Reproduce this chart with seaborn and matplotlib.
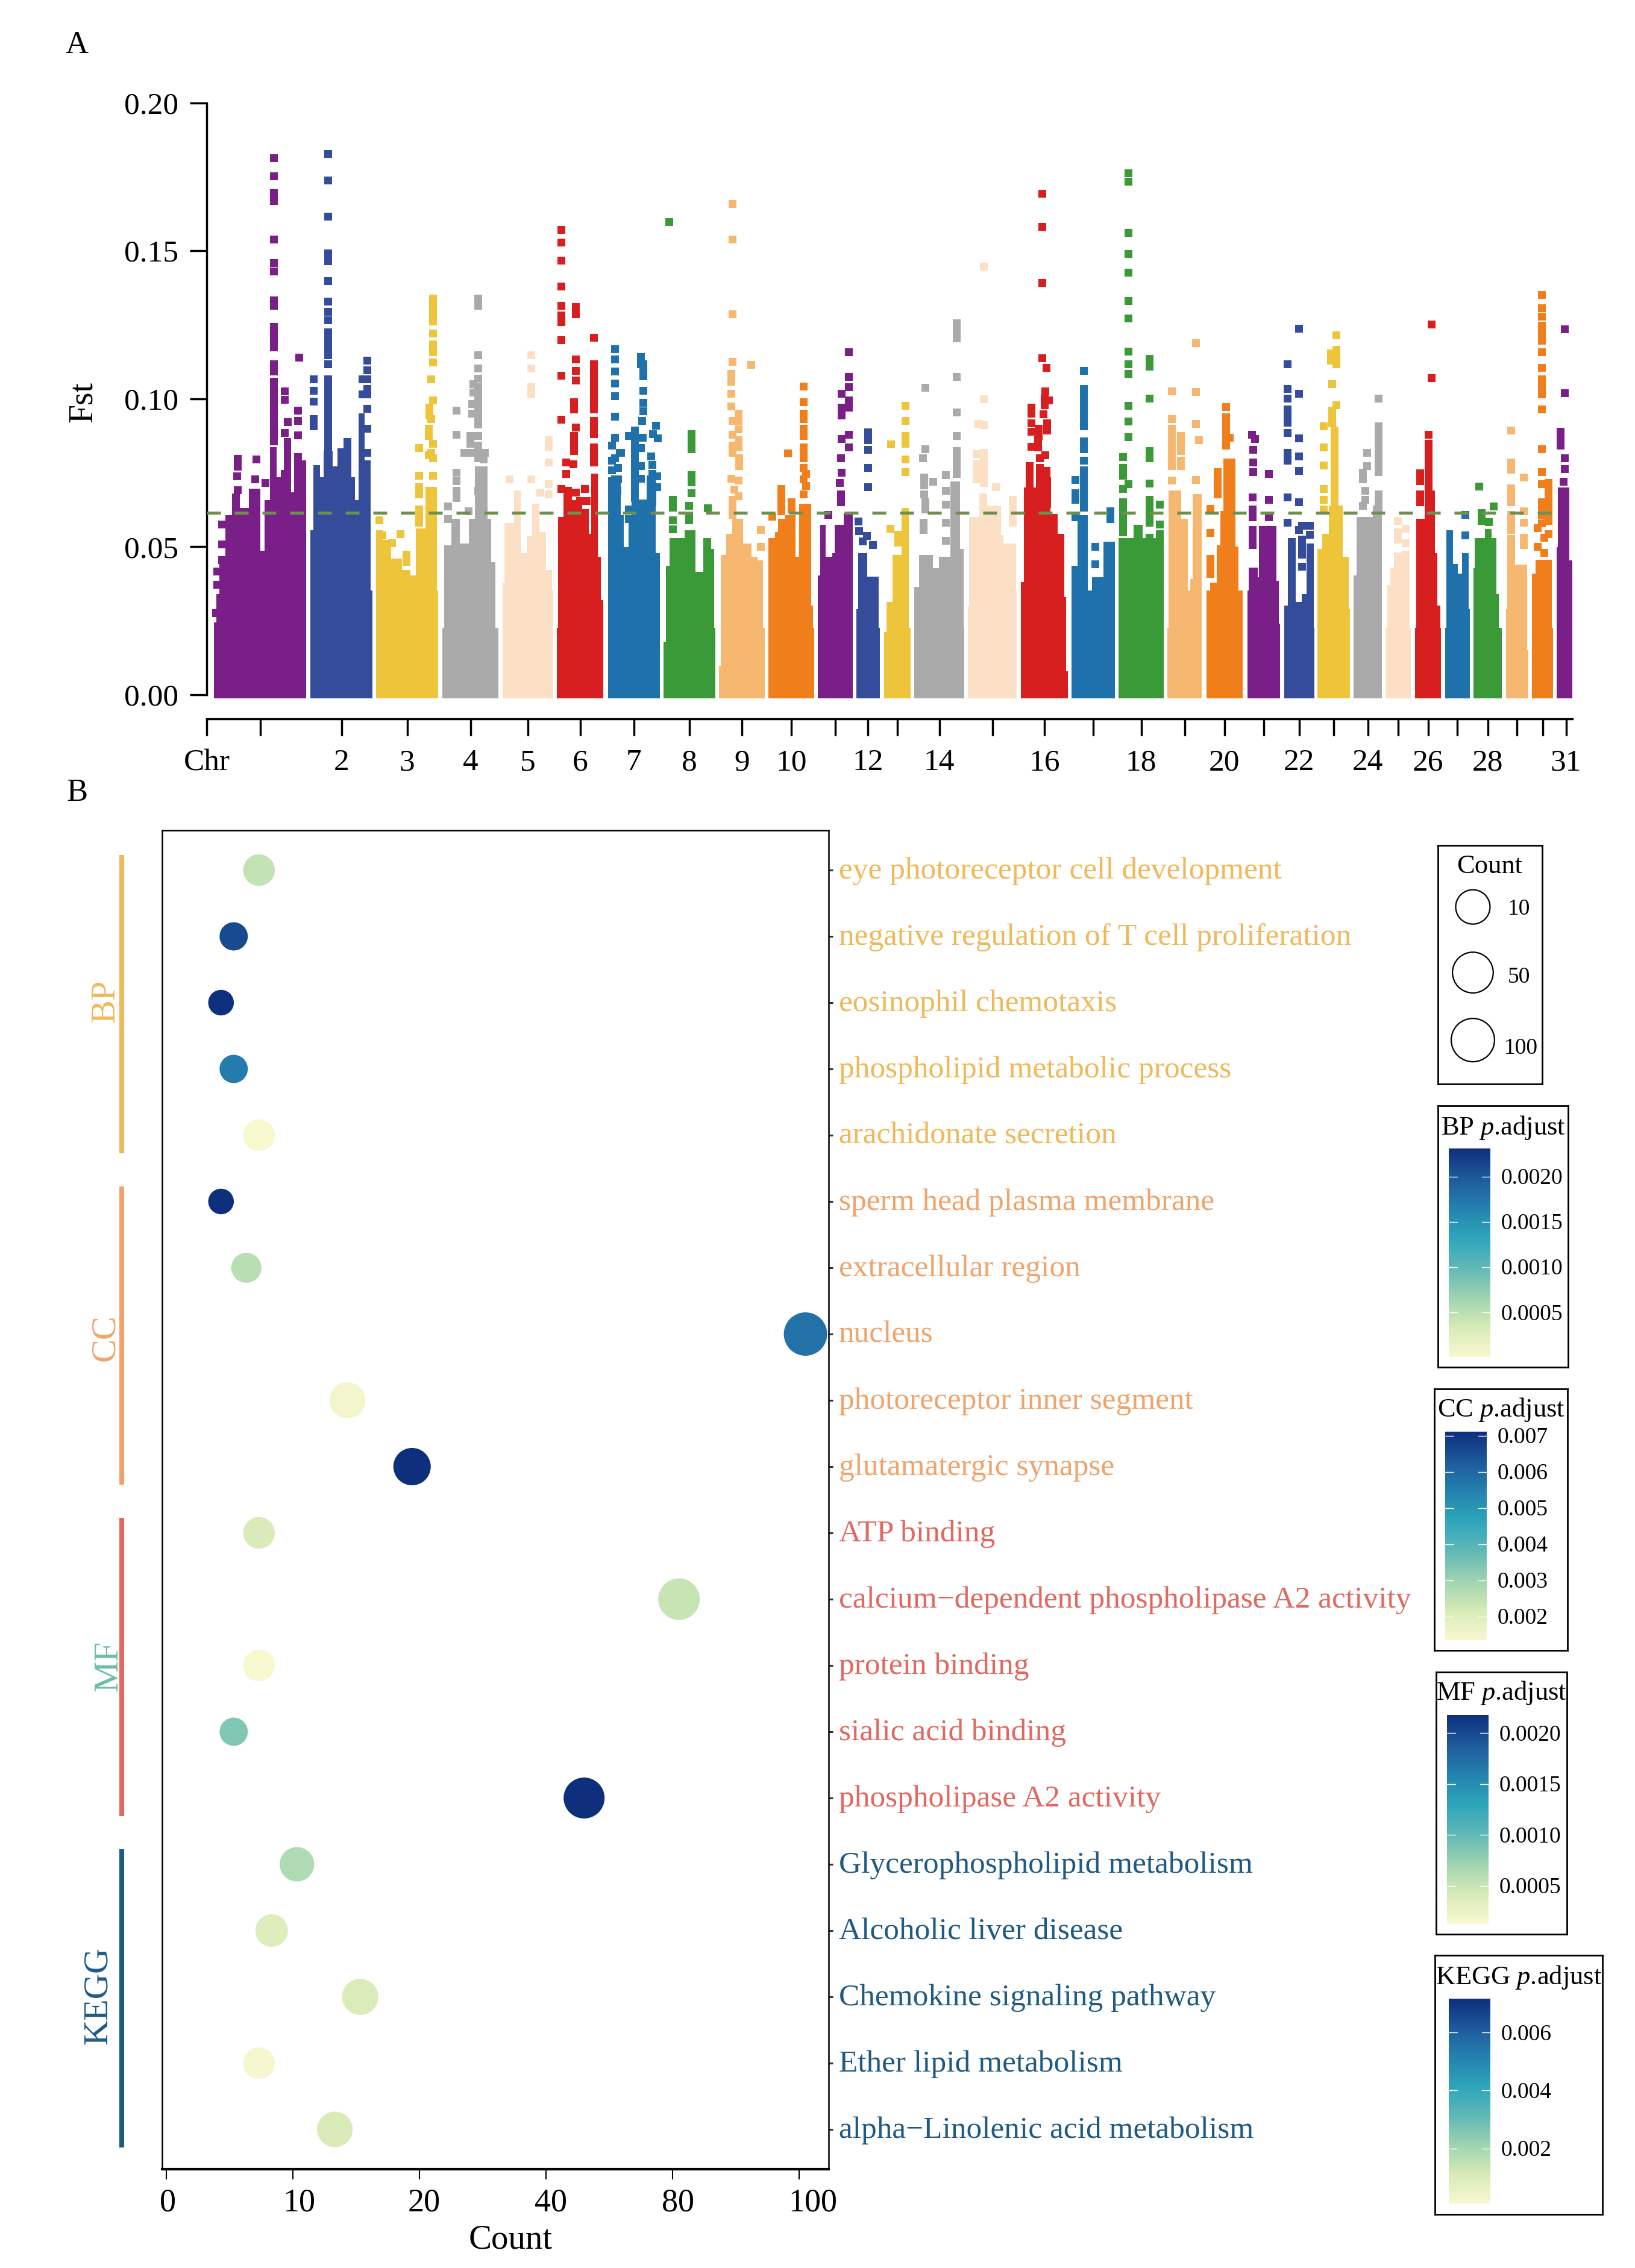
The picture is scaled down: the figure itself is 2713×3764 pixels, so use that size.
import numpy as np
import pandas as pd
import seaborn as sns
import matplotlib.pyplot as plt
from matplotlib.cm import ScalarMappable
from matplotlib.colors import Normalize
from matplotlib.transforms import ScaledTranslation, blended_transform_factory

W, H = 2713, 3764

# ---- panel A: body outline of every chromosome (step edges and top Fst), then the loose points
chr1_pos = [355, 359, 364, 374, 385, 413, 432, 439, 448, 459, 466, 471, 483, 488, 508]
chr1_top = [.0244, .0340, .0467, .0607, .0632, .0696, .0486, .0658, .0836, .0734, .0759, .0868, .0683, .0791]
chr1_hits = {454: [.1813, .1752, .1695, .1669, .1538, .1459, .1430, .1332, .1313, .1243, .1220, .1197, .1173, .1116, .1093, .1058, .1033, .1007, .0982, .0957, .0931, .0906, .0880, .0857],
             496: [.1138], 472: [.1024, .0996, .0884], 494: [.0960, .0925, .0876, .0804, .0766], 477: [.0922],
             394: [.0796, .0770, .0692], 393: [.0738], 425: [.0794], 423: [.0727], 391: [.0667, .0642],
             501: [.0772, .0740], 440: [.0715], 368: [.0575, .0508, .0454], 360: [.0416, .0371], 358: [.0276]}

chr2_pos = [515, 520, 531, 537, 552, 560, 570, 583, 589, 594.5, 605, 615, 618]
chr2_top = [.0556, .0775, .0734, .0823, .0772, .0833, .0868, .0734, .0658, .0950, .0791, .0352]
chr2_hits = {544: [.1826, .1737, .1616, .1491, .1465, .1398, .1328, .1294, .1266, .1224, .1198, .1173, .1147, .1116, .1065, .1039, .1014, .0988, .0963, .0938, .0912, .0887, .0861, .0836, .0817],
             520: [.1065, .1027, .0991, .0931, .0906], 609: [.1128, .1097, .1065, .1033, .1014, .0965, .0899, .0817], 601: [.1065, .1014]}

chr3_pos = [624, 635, 649, 667, 681, 690, 705.5, 725, 727]
chr3_top = [.0556, .0524, .0460, .0422, .0403, .0562, .0702, .0352]
chr3_hits = {718: [.1338, .1313, .1287, .1262, .1220, .1183, .1158, .1122, .0995, .0848, .0798, .0740], 715: [.1065, .0931, .0817],
             712: [.0969, .0944], 711: [.0899, .0874, .0810],
             695: [.0833, .0740, .0702, .0677, .0626, .0600, .0581], 629: [.0589], 634: [.0539], 650: [.0511], 664: [.0543], 674: [.0473, .0448]}

chr4_pos = [734, 737, 749, 763, 778, 788, 809, 814.5, 822, 827]
chr4_top = [.0225, .0505, .0594, .0511, .0594, .0772, .0594, .0448, .0225]
chr4_hits = {793: [.1338, .1313, .1147, .1103, .1068, .1039, .1014, .0988, .0963, .0938, .0912, .0874, .0842, .0817, .0798, .0689],
             785: [.1049, .1020], 783: [.0982, .0950], 757: [.0959, .0878, .0750, .0721, .0689, .0664],
             780: [.0874, .0848, .0817], 770: [.0817], 804: [.0817], 802: [.0795], 801: [.0759, .0734, .0708],
             743: [.0636, .0594], 800: [.0677, .0642], 777: [.0619]}

chr5_pos = [834.4, 837, 853, 864, 874, 883, 895, 906, 916, 918]
chr5_top = [.0378, .0581, .0690, .0479, .0536, .0645, .0550, .0422, .0352]
chr5_hits = {881: [.1147, .1103, .1039, .1014, .0727], 845: [.0727], 910: [.0861, .0836, .0785, .0712, .0677], 896: [.0683]}

chr6_pos = [924, 926, 934.5, 949, 966, 977, 980.5, 992, 996.5, 1001]
chr6_top = [.0225, .0600, .0702, .0658, .0626, .0543, .0747, .0467, .0320]
chr6_hits = {931: [.1570, .1528, .1466, .1379, .1315, .1281, .1259, .1198, .1077, .0929, .0696], 955: [.1309, .1285, .1132, .1095, .1062, .0902, .0683],
             952: [.0988, .0963, .0874, .0848, .0823], 951: [.0779],
             985: [.1207, .1116, .1090, .1065, .1039, .1014, .0988, .0963, .0925, .0899, .0880, .0836, .0810, .0785],
             939: [.0785, .0747], 970: [.0696], 962: [.0655], 973: [.0655]}

chr7_pos = [1009, 1030, 1035, 1042.5, 1048, 1058, 1073, 1088, 1095]
chr7_top = [.0734, .0607, .0499, .0581, .0880, .0660, .0740, .0479]
chr7_hits = {1020: [.1167, .1132, .1093, .1052, .1009, .0939, .0868, .0728, .0798], 1063: [.1141, .1116, .0833, .0772, .0730],
             1067: [.1116, .1090, .1075, .1027, .0986, .0957], 1065: [.0925], 1066: [.0868], 1088: [.0908], 1083: [.0880], 1091: [.0866],
             1053: [.0893, .0868, .0842, .0817, .0791, .0766, .0740, .0715, .0689, .0664], 1043: [.0874, .0626, .0594],
             1080: [.0806], 1082: [.0776, .0747, .0708, .0677, .0651], 1090: [.0738, .0702], 1015: [.0842, .0791, .0759],
             1025: [.0766, .0727], 1028: [.0817], 1017: [.0639], 1024: [.0689], 1030: [.0817]}

chr8_pos = [1101.4, 1105, 1110.6, 1136, 1154, 1167, 1180, 1185, 1187]
chr8_top = [.0180, .0435, .0530, .0556, .0416, .0530, .0492, .0225]
chr8_hits = {1147: [.0880, .0855, .0829, .0743, .0717, .0680], 1116: [.0658, .0632, .0590, .0558], 1110: [.1597],
             1143: [.0638, .0606, .0589], 1174: [.0630]}

chr9_pos = [1193, 1195.5, 1205, 1215, 1233, 1247, 1257, 1266, 1269]
chr9_top = [.0098, .0473, .0543, .0594, .0511, .0467, .0454, .0225]
chr9_hits = {1215: [.1659, .1538, .1285, .1124, .0925, .0878, .0842, .0817, .0658, .0632, .0607], 1213: [.1084, .1058, .1016, .0974, .0730],
             1225: [.0950, .0925, .0897, .0861, .0836, .0724, .0670], 1226: [.0798, .0772], 1246: [.1114], 1218: [.0693], 1262: [.0556, .0499]}

chr10_pos = [1275, 1285.5, 1291, 1303, 1320, 1326, 1345.5, 1348.6, 1350.5]
chr10_top = [.0530, .0550, .0594, .0607, .0467, .0645, .0301, .0225]
chr10_hits = {1333: [.1042, .0988, .0950, .0931, .0899, .0874, .0836, .0813, .0798, .0766, .0728, .0677], 1337: [.0747, .0706],
              1307: [.0815], 1296: [.0696, .0670, .0645, .0619], 1313: [.0651, .0626], 1281: [.0602]}

chr11_pos = [1357.4, 1361, 1370, 1381, 1385, 1400, 1415]
chr11_top = [.0403, .0575, .0467, .0479, .0575, .0613]
chr11_hits = {1408.8: [.1158, .1074, .1039, .0995, .0969, .0879, .0836], 1396: [.1016, .0969, .0944, .0864, .0750],
              1395: [.0800, .0677, .0651], 1393: [.0715], 1374: [.0607]}

chr12_pos = [1421, 1424.4, 1438.6, 1457.7, 1459.6]
chr12_top = [.0289, .0479, .0400, .0225]
chr12_hits = {1440: [.0887, .0861, .0827, .0766, .0701], 1424: [.0585], 1425: [.0552], 1438: [.0537], 1431: [.0518], 1448: [.0505]}

chr13_pos = [1466.5, 1471, 1480.6, 1496, 1508, 1510.5]
chr13_top = [.0212, .0314, .0473, .0632, .0225]
chr13_hits = {1502: [.0976, .0925, .0874, .0848, .0794, .0752], 1478: [.0845], 1477: [.0561], 1490: [.0541, .0515]}

chr14_pos = [1517, 1524.5, 1548, 1558, 1577, 1593.4, 1599, 1600]
chr14_top = [.0365, .0473, .0428, .0467, .0720, .0492, .0225]
chr14_hits = {1587: [.1255, .1230, .1205, .1074, .0953, .0874, .0823, .0798, .0772, .0747], 1535: [.1037, .0829, .0651, .0626], 1531: [.0798],
              1533: [.0734, .0708, .0677], 1548: [.0719], 1569: [.0743, .0689, .0642, .0581, .0521], 1532: [.0581, .0556]}

chr15_pos = [1606.4, 1607.6, 1625, 1638, 1661, 1665, 1686, 1687]
chr15_top = [.0300, .0600, .0680, .0640, .0540, .0511, .0352]
chr15_hits = {1632: [.1446, .0998, .0910, .0817, .0791, .0766, .0740, .0715], 1623: [.0916], 1620: [.0813, .0778, .0753, .0727],
              1652: [.0702], 1680: [.0658, .0632, .0607, .0581]}

chr16_pos = [1693.7, 1699.4, 1718.6, 1743, 1755, 1766.4, 1768.7, 1771.8]
chr16_top = [.0380, .0700, .0770, .0610, .0543, .0330, .0080]
chr16_hits = {1729: [.1693, .1580, .1392, .1137], 1736: [.1104], 1734: [.1024, .0810], 1733: [.1001, .0978], 1740: [.0995], 1731: [.0948],
              1737: [.0918, .0893, .0721, .0696, .0670, .0645], 1723: [.0899, .0874], 1711: [.0969, .0950, .0918, .0889, .0838],
              1722: [.0861, .0836], 1725: [.0798, .0766, .0740, .0715, .0689, .0664, .0638], 1708: [.0772, .0753, .0727, .0702, .0677, .0626, .0600]}

chr17_pos = [1778, 1787.5, 1805, 1811.6, 1830.7, 1850]
chr17_top = [.0435, .0607, .0352, .0397, .0518]
chr17_hits = {1798: [.1095, .1033, .1007, .0982, .0957, .0931, .0906, .0855, .0829, .0790, .0759, .0734, .0708, .0683, .0658, .0632],
              1784: [.0725, .0680, .0658, .0600], 1817: [.0499, .0441], 1842: [.0619, .0594]}

chr18_pos = [1856.3, 1871.6, 1881, 1896, 1931]
chr18_top = [.0530, .0530, .0575, .0530]
chr18_hits = {1872.6: [.1762, .1733, .1561, .1490, .1426, .1331, .1271, .1159, .1116, .1083, .0977, .0923, .0870, .0712],
              1863: [.0804, .0766, .0740, .0696, .0651, .0626, .0600, .0575, .0549],
              1907: [.1135, .1109, .1000, .0823, .0798, .0714, .0658, .0632, .0607, .0581, .0530, .0511], 1924: [.0642, .0576, .0543]}

chr19_pos = [1937, 1938.6, 1959.7, 1971, 1975, 1979, 1994]
chr19_top = [.0225, .0690, .0594, .0352, .0390, .0677]
chr19_hits = {1944: [.1024, .0931, .0899, .0874, .0848, .0823, .0798, .0772, .0724], 1959: [.0874, .0848, .0823, .0791, .0772],
              1984: [.1188, .1023, .0916, .0725], 1989: [.0861]}

chr20_pos = [2001.8, 2007.5, 2019, 2025, 2029.7, 2050, 2055, 2062]
chr20_top = [.0352, .0378, .0505, .0620, .0798, .0500, .0352]
chr20_hits = {2034: [.0973, .0937, .0918, .0893, .0868, .0842], 2020: [.0753, .0727, .0702, .0677], 2008: [.0628, .0547, .0460, .0435, .0409], 2040: [.0868]}

chr21_pos = [2069.6, 2071.5, 2087, 2089, 2118, 2122, 2124]
chr21_top = [.0352, .0430, .0397, .0570, .0384, .0240]
chr21_hits = {2077: [.0878], 2082: [.0864], 2079: [.0827, .0785, .0753], 2078: [.0667, .0626, .0600, .0556, .0530, .0505], 2105: [.0747, .0658, .0600]}

chr22_pos = [2130.8, 2136.5, 2150, 2160, 2168, 2180, 2180.6]
chr22_top = [.0301, .0530, .0314, .0340, .0511, .0225]
chr22_hits = {2136: [.1117, .1034, .1000, .0963, .0938, .0920, .0885, .0817, .0791, .0667, .0581], 2155: [.1237, .1016, .0866, .0805, .0757, .0650, .0556],
              2160: [.0571, .0524, .0499, .0473, .0432], 2173: [.0571, .0541]}

chr23_pos = [2186, 2194, 2204.7, 2228.4, 2238, 2240]
chr23_top = [.0492, .0543, .0640, .0467, .0290]
chr23_hits = {2217: [.1214, .1166, .1141, .1116, .0978], 2208: [.1154, .1128], 2210: [.1050, .0960, .0937, .0918],
              2214: [.0893, .0868, .0842, .0817, .0791, .0766, .0740, .0715, .0689, .0664, .0638], 2196: [.0906, .0836, .0775, .0696, .0658, .0626]}

chr24_pos = [2246.4, 2251, 2278, 2293]
chr24_top = [.0403, .0600, .0640]
chr24_hits = {2287: [.1001, .0906, .0880, .0855, .0829, .0804, .0779, .0753, .0677, .0651, .0626], 2268: [.0817, .0772],
              2261: [.0750, .0728, .0638], 2265: [.0689, .0658]}

chr25_pos = [2299, 2302, 2307, 2312.6, 2326, 2338.6, 2341]
chr25_top = [.0225, .0371, .0428, .0480, .0486, .0225]
chr25_hits = {2319: [.0588, .0549, .0524], 2332: [.0561, .0511]}

chr26_pos = [2348, 2350, 2364, 2381, 2385, 2390, 2391]
chr26_top = [.0225, .0594, .0690, .0479, .0301, .0225]
chr26_hits = {2375: [.1250, .1069], 2370: [.0879, .0848, .0823, .0798, .0772, .0747, .0721, .0696, .0670, .0645], 2356: [.0749, .0721, .0677, .0651]}

chr27_pos = [2397.5, 2400, 2411, 2419, 2425.5, 2437, 2439]
chr27_top = [.0225, .0556, .0441, .0409, .0479, .0290]
chr27_hits = {2431: [.0607, .0539]}

chr28_pos = [2445, 2447, 2464, 2475, 2483, 2487, 2492]
chr28_top = [.0428, .0530, .0560, .0530, .0340, .0225]
chr28_hits = {2454: [.0703], 2478: [.0636], 2458: [.0613, .0588], 2470: [.0584]}

chr29_pos = [2498.6, 2501, 2513.5, 2534, 2536]
chr29_top = [.0290, .0540, .0440, .0150]
chr29_hits = {2507.5: [.0893, .0785, .0760, .0698, .0670, .0651, .0607, .0581, .0556], 2528: [.0734, .0619, .0581, .0530, .0505]}

chr30_pos = [2542, 2548, 2575, 2577]
chr30_top = [.0409, .0455, .0225]
chr30_hits = {2558: [.1351, .1306, .1278, .1247, .1221, .1196, .1158, .1105, .1065, .1039, .1014, .0963, .0829, .0753, .0712, .0651, .0626, .0607, .0579],
              2569: [.0715, .0689, .0664, .0638, .0613, .0588, .0543], 2551: [.0562, .0499], 2562: [.0530, .0479]}

chr31_pos = [2583, 2585, 2604, 2610, 2614]
chr31_top = [.0499, .0700, .0454, .0300]
chr31_hits = {2596.5: [.1234, .1018, .0799, .0762], 2589: [.0889, .0864, .0842], 2594: [.0719]}

all_pos = [chr1_pos, chr2_pos, chr3_pos, chr4_pos, chr5_pos, chr6_pos, chr7_pos, chr8_pos, chr9_pos, chr10_pos, chr11_pos,
           chr12_pos, chr13_pos, chr14_pos, chr15_pos, chr16_pos, chr17_pos, chr18_pos, chr19_pos, chr20_pos, chr21_pos,
           chr22_pos, chr23_pos, chr24_pos, chr25_pos, chr26_pos, chr27_pos, chr28_pos, chr29_pos, chr30_pos, chr31_pos]
all_top = [chr1_top, chr2_top, chr3_top, chr4_top, chr5_top, chr6_top, chr7_top, chr8_top, chr9_top, chr10_top, chr11_top,
           chr12_top, chr13_top, chr14_top, chr15_top, chr16_top, chr17_top, chr18_top, chr19_top, chr20_top, chr21_top,
           chr22_top, chr23_top, chr24_top, chr25_top, chr26_top, chr27_top, chr28_top, chr29_top, chr30_top, chr31_top]
all_hits = [chr1_hits, chr2_hits, chr3_hits, chr4_hits, chr5_hits, chr6_hits, chr7_hits, chr8_hits, chr9_hits, chr10_hits, chr11_hits,
            chr12_hits, chr13_hits, chr14_hits, chr15_hits, chr16_hits, chr17_hits, chr18_hits, chr19_hits, chr20_hits, chr21_hits,
            chr22_hits, chr23_hits, chr24_hits, chr25_hits, chr26_hits, chr27_hits, chr28_hits, chr29_hits, chr30_hits, chr31_hits]
chr_labels = ['', '2', '3', '4', '5', '6', '7', '8', '9', '10', '', '12', '', '14', '', '16', '', '18', '', '20', '', '22', '', '24', '', '26', '', '28', '', '', '31']
chr_colors = ['#7B1F88', '#354C9B', '#EEC43A', '#AAAAAA', '#FCE0C6', '#D71F20', '#1F71AB', '#3A9A38', '#F6B871', '#F07F1B']
fst_ticks = [0.0, 0.05, 0.10, 0.15, 0.20]
fst_threshold = 0.0615

# ---- panel B
terms = ['eye photoreceptor cell development', 'negative regulation of T cell proliferation', 'eosinophil chemotaxis',
         'phospholipid metabolic process', 'arachidonate secretion', 'sperm head plasma membrane', 'extracellular region',
         'nucleus', 'photoreceptor inner segment', 'glutamatergic synapse', 'ATP binding',
         'calcium\u2212dependent phospholipase A2 activity', 'protein binding', 'sialic acid binding', 'phospholipase A2 activity',
         'Glycerophospholipid metabolism', 'Alcoholic liver disease', 'Chemokine signaling pathway', 'Ether lipid metabolism',
         'alpha\u2212Linolenic acid metabolism']
counts = [7.3, 5.3, 4.3, 5.3, 7.3, 4.3, 6.3, 101, 14.3, 19.4, 7.3, 81, 7.3, 5.3, 52, 10.3, 8.3, 15.3, 7.3, 13.3]
padjust = [.00045, .0021, .0023, .0017, .00002, .0071, .0026, .0058, .0015, .0071, .0004, .0005, .00014, .00085, .00218, .0018, .0009, .0010, .0002, .00105]
groups = ['BP'] * 5 + ['CC'] * 5 + ['MF'] * 5 + ['KEGG'] * 5
group_order = ['BP', 'CC', 'MF', 'KEGG']
group_range = {'BP': (.00001, .00231), 'CC': (.00135, .00712), 'MF': (.00013, .00218), 'KEGG': (.0001, .00717)}
group_ticks = {'BP': [.0005, .0010, .0015, .0020], 'CC': [.002, .003, .004, .005, .006, .007],
               'MF': [.0005, .0010, .0015, .0020], 'KEGG': [.002, .004, .006]}
group_fmt = {'BP': '%.4f', 'CC': '%.3f', 'MF': '%.4f', 'KEGG': '%.3f'}
group_text_color = {'BP': '#EFB95A', 'CC': '#F0A46C', 'MF': '#E2685F', 'KEGG': '#1F5A85'}
group_label_color = {'BP': '#EFB95A', 'CC': '#F0A46C', 'MF': '#6DBFA0', 'KEGG': '#1F5A85'}
count_ticks = [0, 10, 20, 40, 80, 100]
count_label_shift = [2, 10, 7, 8, 9, 23]
legend_counts = [10, 50, 100]
size_count = [4, 5, 7, 10, 15, 19, 52, 81, 101]
size_dia = [41, 46, 52, 57, 60, 62, 68, 69, 72]

sns.set_theme(style='ticks')
plt.rcParams['font.family'] = ['Liberation Serif']
plt.rcParams['mathtext.fontset'] = 'custom'
plt.rcParams['mathtext.rm'] = 'Liberation Serif'
plt.rcParams['mathtext.it'] = 'Liberation Serif:italic'

cmap = sns.blend_palette(['#F9F8D0', '#D6EAB6', '#9ED3B0', '#5FB8B6', '#2EA5BB', '#2482AF', '#1E5A9C', '#0E2F7C'], as_cmap=True)


def px_axes(left, top, right, bottom):
    return fig.add_axes([left / W, 1 - bottom / H, (right - left) / W, (bottom - top) / H])


def fig_text(x, y, s, **kw):
    fig.text(x / W, 1 - y / H, s, ha=kw.pop('ha', 'center'), va=kw.pop('va', 'center'), **kw)


def marker_s(count):
    return (np.interp(count, size_count, size_dia) * 0.72) ** 2


fig = plt.figure(figsize=(W / 100, H / 100), dpi=100)

# ---- panel A
ax = px_axes(343, 170.5, 2609, 1193)
rows = []
for i in range(31):
    color = chr_colors[i % 10]
    ax.stairs(all_top[i], all_pos[i], baseline=-0.0013, fill=True, color=color, linewidth=0)
    for p, vals in all_hits[i].items():
        rows += [(p, v, i) for v in vals]
hits = pd.DataFrame(rows, columns=['pos', 'fst', 'chrom'])
sns.scatterplot(data=hits, x='pos', y='fst', hue='chrom', palette=[chr_colors[i % 10] for i in range(31)],
                marker='s', s=(13 * 0.72) ** 2, linewidth=0, legend=False, ax=ax)
ax.plot([343, 2590], [fst_threshold, fst_threshold], color='#6F8F4F', lw=3.6, ls=(0, (4.6, 4.6)), zorder=5)
ax.set_xlim(343, 2609)
ax.set_ylim(-0.00814, 0.20)
mids = [(p[0] + p[-1]) / 2 for p in all_pos]
ax.set_xticks([343] + mids, ['Chr'] + chr_labels, fontsize=37)
ax.set_yticks(fst_ticks, ['%.2f' % v for v in fst_ticks], fontsize=37)
ax.tick_params(axis='both', length=20, width=2.5, color='black', labelcolor='black')
ax.tick_params(axis='x', pad=16)
ax.tick_params(axis='y', pad=14)
ax.set_xlabel('')
ax.set_ylabel('')
sns.despine(ax=ax)
ax.spines['left'].set_bounds(0, 0.20)
for s in ['left', 'bottom']:
    ax.spines[s].set_linewidth(2.5)
    ax.spines[s].set_color('black')
fig_text(138, 667, 'Fst', fontsize=40, rotation=90, color='black')
fig_text(128, 75, 'A', fontsize=38, color='black')
fig_text(128, 1316, 'B', fontsize=38, color='black')

# ---- panel B
bx = px_axes(269, 1378, 1375, 3600)
df = pd.DataFrame({'term': terms, 'count': counts, 'padj': padjust, 'group': groups})
df['row'] = df.index
size_map = {c: marker_s(c) for c in counts}
for g in group_order:
    sub = df[df['group'] == g]
    sns.scatterplot(data=sub, x='count', y='row', hue='padj', hue_norm=group_range[g], palette=cmap,
                    size='count', sizes=size_map, linewidth=0, legend=False, clip_on=False, ax=bx)


def count_forward(v):
    v = np.asarray(v, float)
    return np.interp(v, count_ticks, range(6)) + np.clip(v - 100, 0, None) / 20 + np.clip(v, None, 0) / 10


def count_inverse(v):
    v = np.asarray(v, float)
    return np.interp(v, range(6), count_ticks) + np.clip(v - 5, 0, None) * 20 + np.clip(v, None, 0) * 10


bx.set_xscale('function', functions=(count_forward, count_inverse))
bx.set_xlim(count_inverse(-0.0357), count_inverse(5.233))
bx.set_ylim(19.6, -0.6)
bx.set_xticks(count_ticks, [str(c) for c in count_ticks], fontsize=39)
bx.xaxis.set_minor_locator(plt.NullLocator())
bx.tick_params(axis='x', length=12, width=1.5, pad=10, color='black', labelcolor='black')
for lab, dx in zip(bx.get_xticklabels(), count_label_shift):
    lab.set_transform(lab.get_transform() + ScaledTranslation(dx / 100, 0, fig.dpi_scale_trans))
bx.yaxis.tick_right()
bx.set_yticks(df['row'], terms, fontsize=37)
bx.tick_params(axis='y', length=5, width=2.2, pad=7, color='#333333')
for lab, g in zip(bx.get_yticklabels(), groups):
    lab.set_color(group_text_color[g])
    lab.set_transform(lab.get_transform() + ScaledTranslation(0, 4 / 100, fig.dpi_scale_trans))
bx.set_xlabel('')
bx.set_ylabel('')
for s in bx.spines.values():
    s.set_linewidth(1.8)
    s.set_color('black')
bx.spines['bottom'].set_linewidth(3)
fig_text(847, 3718, 'Count', fontsize=41, color='black')

trans = blended_transform_factory(bx.transAxes, bx.transData)
bar_x = (202 - 269) / (1375 - 269)
label_x = {'BP': 175, 'CC': 175, 'MF': 180, 'KEGG': 163}
label_y = {'BP': 1661, 'CC': 2220, 'MF': 2765, 'KEGG': 3312}
for g in group_order:
    rs = df.loc[df['group'] == g, 'row']
    bar_color = group_text_color[g]
    bx.plot([bar_x, bar_x], [rs.min() - 0.23, rs.max() + 0.27], transform=trans, clip_on=False, color=bar_color, lw=5.8, solid_capstyle='butt')
    fig_text(label_x[g], label_y[g], g, fontsize=42, rotation=90, color=group_label_color[g])

# count legend
lx = px_axes(2386, 1403, 2559, 1799)
leg = pd.DataFrame({'count': legend_counts, 'slot': [0.742, 0.467, 0.184]})
sns.scatterplot(data=leg, x=[0.335] * 3, y='slot', size='count', sizes={c: marker_s(c) for c in legend_counts},
                facecolor='none', edgecolor='black', linewidth=1.6, legend=False, ax=lx)
lx.set_xlim(0, 1)
lx.set_ylim(0, 1)
lx.set(xticks=[], yticks=[], xlabel='', ylabel='')
for s in lx.spines.values():
    s.set_linewidth(2)
    s.set_color('black')
fig_text(2472, 1438, 'Count', fontsize=32, color='black')
for c, x, y in zip(legend_counts, [2520, 2520, 2524], [1509, 1622, 1740]):
    fig_text(x, y, str(c), fontsize=27, color='black')

# p.adjust legends
boxes = {'BP': (2386, 1834.5, 2602, 2269), 'CC': (2380, 2305, 2601, 2739), 'MF': (2383, 2775, 2600, 3210), 'KEGG': (2381, 3245, 2659, 3675)}
bars = {'BP': (2404, 1906, 2473, 2252), 'CC': (2398, 2376, 2467, 2722), 'MF': (2401, 2846, 2470, 3192.5), 'KEGG': (2404, 3317, 2473, 3657)}
titles = {'BP': (2494, 1872), 'CC': (2491, 2340), 'MF': (2491, 2810), 'KEGG': (2520, 3282)}
for g in group_order:
    box = px_axes(*boxes[g])
    box.set(xticks=[], yticks=[])
    for s in box.spines.values():
        s.set_linewidth(2)
        s.set_color('black')
    cax = px_axes(*bars[g])
    vmin, vmax = group_range[g]
    cb = fig.colorbar(ScalarMappable(Normalize(vmin, vmax), cmap), cax=cax, ticks=group_ticks[g], format=group_fmt[g])
    cb.outline.set_visible(False)
    cax.tick_params(length=0, pad=13, labelsize=27, colors='black')
    for lab in cax.get_yticklabels():
        lab.set_transform(lab.get_transform() + ScaledTranslation(0, 1 / 100, fig.dpi_scale_trans))
    for t in group_ticks[g]:
        cax.plot([0, 0.2], [t, t], color='white', lw=1, transform=cax.get_yaxis_transform())
        cax.plot([0.8, 1], [t, t], color='white', lw=1, transform=cax.get_yaxis_transform())
    fig_text(titles[g][0], titles[g][1], g + ' $\\mathit{p}$.adjust', fontsize=32, color='black')

fig.savefig('out.png', dpi=100)
